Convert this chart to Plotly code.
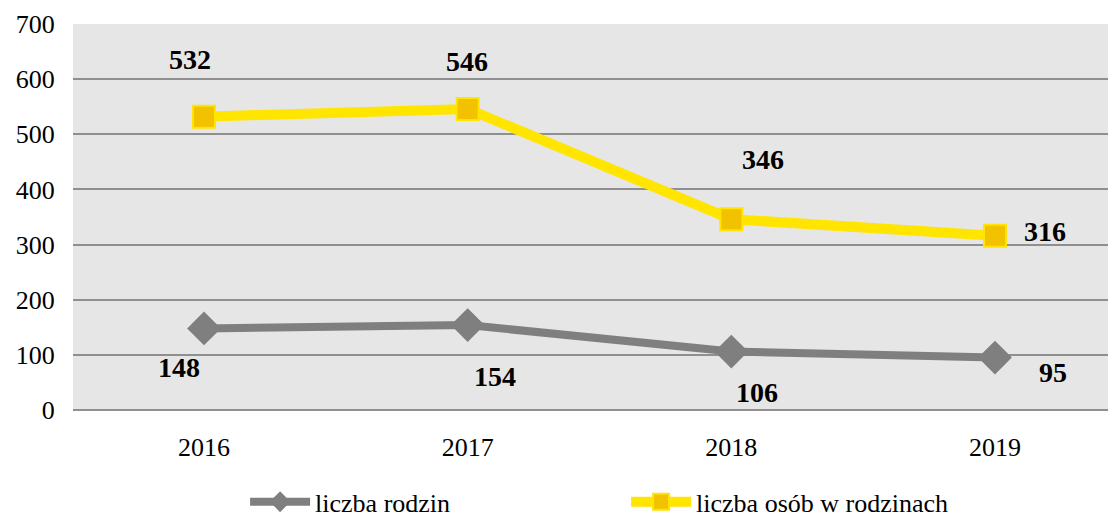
import plotly.graph_objects as go

years = ["2016", "2017", "2018", "2019"]
rodziny = [148, 154, 106, 95]
osoby = [532, 546, 346, 316]
series_names = ["liczba rodzin", "liczba osób w rodzinach"]

GRAY = "#7f7f7f"
YEL_LINE = "#ffe500"
YEL_FILL = "#f2c200"
FONT = "Liberation Serif, Times New Roman, DejaVu Serif, serif"

fig = go.Figure()
fig.add_trace(go.Scatter(
    x=years, y=rodziny, name=series_names[0], mode="lines+markers",
    line=dict(color=GRAY, width=8),
    marker=dict(symbol="diamond", size=26, color=GRAY, line=dict(width=0)),
))
fig.add_trace(go.Scatter(
    x=years, y=osoby, name=series_names[1], mode="lines+markers",
    line=dict(color=YEL_LINE, width=10),
    marker=dict(symbol="square", size=22, color=YEL_FILL, line=dict(color=YEL_LINE, width=2)),
))

# data labels (offsets in pixels relative to points)
gray_shift = [(-25, -39), (27, -51), (26, -41), (58, -15)]
yel_shift = [(-14, 57), (-1, 47), (32, 60), (50, 4)]
for i, yr in enumerate(years):
    dx, dy = gray_shift[i]
    fig.add_annotation(x=i, y=rodziny[i], xref="x", yref="y", text="<b>%d</b>" % rodziny[i],
                       showarrow=False, xshift=dx, yshift=dy,
                       font=dict(family=FONT, size=28, color="black"))
    dx, dy = yel_shift[i]
    fig.add_annotation(x=i, y=osoby[i], xref="x", yref="y", text="<b>%d</b>" % osoby[i],
                       showarrow=False, xshift=dx, yshift=dy,
                       font=dict(family=FONT, size=28, color="black"))

# page body has an 8px default margin, so the figure is offset by 8px
fig.update_layout(
    width=1108, height=513,
    margin=dict(l=65, r=0, t=16, b=111, autoexpand=False),
    paper_bgcolor="white", plot_bgcolor="#e6e6e6",
    font=dict(family=FONT, size=26, color="black"),
    showlegend=True,
    legend=dict(orientation="h", x=0.165, xanchor="left", y=-0.238, yanchor="middle",
                entrywidth=306, entrywidthmode="pixels",
                font=dict(family=FONT, size=26, color="black"), itemwidth=60,
                bgcolor="rgba(0,0,0,0)"),
)
fig.update_xaxes(type="category", range=[-0.497, 3.459], showgrid=False, showline=False, zeroline=False,
                 ticks="outside", ticklen=14, tickcolor="rgba(0,0,0,0)", automargin=False,
                 tickfont=dict(family=FONT, size=26))
fig.update_yaxes(range=[0, 700], dtick=100, showgrid=True, gridcolor="#8f8f8f", gridwidth=2,
                 zeroline=True, zerolinecolor="#8f8f8f", zerolinewidth=2, automargin=False,
                 showline=False, ticks="outside", ticklen=12, tickcolor="rgba(0,0,0,0)",
                 tickfont=dict(family=FONT, size=26))

fig.write_html("out.html")
